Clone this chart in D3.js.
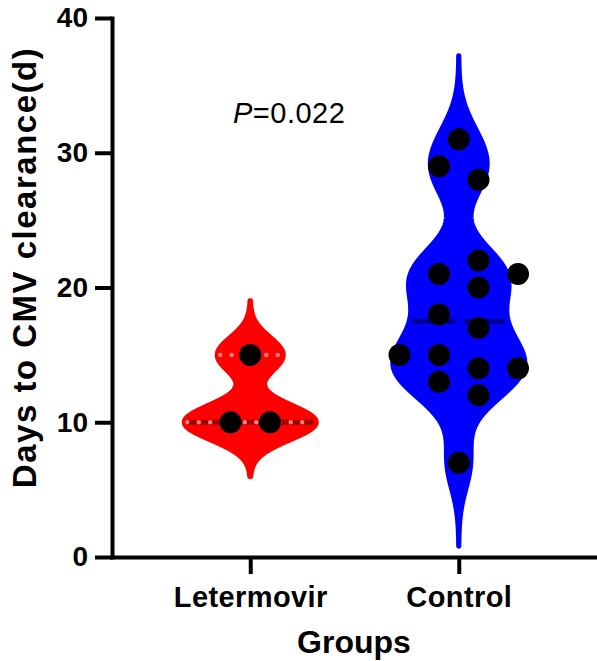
<!DOCTYPE html>
<html lang="en">
<head>
    <meta charset="UTF-8">
    <title>Days to CMV clearance</title>
    <script src="https://cdn.jsdelivr.net/npm/d3@7/dist/d3.min.js"></script>
</head>
<style>
    body {
        margin: 0;
        background: #fff;
    }

    svg text {
        font-family: "Liberation Sans", Arial, sans-serif;
    }

    .axis path, .axis line {
        stroke: #000;
        stroke-width: 4;
    }

    .axis text {
        font-size: 28px;
        font-weight: bold;
        fill: #000;
    }

    .xaxis text {
        font-size: 29px;
        letter-spacing: 0.4px;
    }
</style>
<body>
<script>
    // data
    var groups = ['Letermovir', 'Control'];
    var letermovir = [10, 10, 15];
    var control = [31, 29, 28, 22, 21, 21, 20, 18, 17, 15, 15, 14, 14, 13, 12, 7];
    var yTicks = [0, 10, 20, 30, 40];
    var pValue = '0.022';

    // styles
    var fillColors = ['#ff0000', '#0000ff'];
    var medianColors = ['#9e0000', '#000090'];
    var medianDash = [null, '44 7'];
    var quartileColors = ['#ff8080', null];
    var bandwidths = [1.3, 2.0];

    var width = 597;
    var height = 661;

    var svg = d3.select('body')
        .append('svg')
        .attr('width', width)
        .attr('height', height)

    var xScale = d3.scalePoint()
        .domain(groups)
        .range([112, 597])
        .padding(0.663)

    var yScale = d3.scaleLinear()
        .domain([0, 40])
        .range([557, 18])

    var series = [letermovir, control];

    // Prism style quantile: position (n+1)p
    function quartile(values, p) {
        var s = values.slice().sort(d3.ascending);
        var pos = (s.length + 1) * p;
        pos = Math.max(1, Math.min(s.length, pos));
        var lo = Math.floor(pos), frac = pos - lo;
        var a = s[lo - 1], b = s[Math.min(lo, s.length - 1)];
        return a + frac * (b - a);
    }

    function kde(values, bw) {
        var lo = d3.min(values) - 3.1 * bw;
        var hi = d3.max(values) + 3.1 * bw;
        var pts = [];
        for (var v = lo; v <= hi + 1e-9; v += 0.05) {
            var s = 0;
            values.forEach(function (x) {
                s += Math.exp(-(v - x) * (v - x) / (2 * bw * bw));
            });
            pts.push([v, s]);
        }
        return pts;
    }

    // put dots next to each other when they would overlap
    function swarm(values, cx) {
        var r = 11, step = 19.75;
        var items = values.map(function (v) {
            return {v: v, y: yScale(v)};
        }).sort(function (a, b) {
            return a.v - b.v;
        });
        var placed = [];
        items.forEach(function (it) {
            var alone = items.every(function (o) {
                return o === it || Math.abs(o.y - it.y) >= 2 * r;
            });
            if (alone) {
                it.x = cx;
            } else {
                var cands = [1, -1, 3, -3, 5, -5];
                for (var i = 0; i < cands.length; i++) {
                    var x = cx + cands[i] * step;
                    var hit = placed.some(function (o) {
                        var dx = o.x - x, dy = o.y - it.y;
                        return Math.sqrt(dx * dx + dy * dy) < 2 * r;
                    });
                    if (!hit) {
                        it.x = x;
                        break;
                    }
                }
            }
            placed.push(it);
        });
        return placed;
    }

    series.forEach(function (values, gi) {
        var cx = xScale(groups[gi]);
        var dens = kde(values, bandwidths[gi]);
        var wScale = d3.scaleLinear()
            .domain([0, d3.max(dens, function (d) { return d[1]; })])
            .range([0, 66]);

        var halfAt = function (v) {
            var s = 0, bw = bandwidths[gi];
            values.forEach(function (x) {
                s += Math.exp(-(v - x) * (v - x) / (2 * bw * bw));
            });
            return wScale(s);
        };

        var area = d3.area()
            .y(function (d) { return yScale(d[0]); })
            .x0(function (d) { return cx - wScale(d[1]); })
            .x1(function (d) { return cx + wScale(d[1]); })

        svg.append('path')
            .datum(dens)
            .attr('d', area)
            .attr('fill', fillColors[gi])
            .attr('stroke', fillColors[gi])
            .attr('stroke-width', 5)
            .attr('stroke-linejoin', 'round')

        var med = quartile(values, 0.5);
        var hw = halfAt(med) - 3;
        svg.append('line')
            .attr('x1', cx - hw)
            .attr('x2', cx + hw)
            .attr('y1', yScale(med))
            .attr('y2', yScale(med))
            .attr('stroke', medianColors[gi])
            .attr('stroke-width', 5)
            .attr('stroke-dasharray', medianDash[gi])

        if (quartileColors[gi]) {
            [0.25, 0.75].forEach(function (p) {
                var q = quartile(values, p);
                var qw = halfAt(q) - 3;
                svg.append('line')
                    .attr('x1', cx - qw)
                    .attr('x2', cx + qw)
                    .attr('y1', yScale(q))
                    .attr('y2', yScale(q))
                    .attr('stroke', quartileColors[gi])
                    .attr('stroke-width', 4.5)
                    .attr('stroke-linecap', 'round')
                    .attr('stroke-dasharray', '0 11.5')
            });
        }

        svg.selectAll('.dot' + gi)
            .data(swarm(values, cx))
            .enter()
            .append('circle')
            .attr('class', 'dot' + gi)
            .attr('cx', function (d) { return d.x; })
            .attr('cy', function (d) { return d.y; })
            .attr('r', 11)
            .attr('fill', '#000')
    });

    var xAxis = d3.axisBottom(xScale)
        .tickSize(17)
        .tickSizeOuter(0)
        .tickPadding(12)

    var yAxis = d3.axisLeft(yScale)
        .tickValues(yTicks)
        .tickSize(17)
        .tickSizeOuter(0)
        .tickPadding(7)

    svg.append('g')
        .attr('class', 'axis xaxis')
        .attr('transform', 'translate(0,' + yScale(0) + ')')
        .call(xAxis)

    svg.append('g')
        .attr('class', 'axis')
        .attr('transform', 'translate(112,0)')
        .call(yAxis);

    svg.selectAll('.axis .domain').attr('stroke-linecap', 'square');

    svg.append('text')
        .attr('x', 354)
        .attr('y', 653)
        .attr('text-anchor', 'middle')
        .attr('font-size', 32)
        .attr('font-weight', 'bold')
        .text('Groups')

    svg.append('text')
        .attr('transform', 'rotate(-90)')
        .attr('x', -(yScale(0) + yScale(40)) / 2 + 20)
        .attr('y', 36)
        .attr('text-anchor', 'middle')
        .attr('font-size', 33)
        .attr('font-weight', 'bold')
        .attr('letter-spacing', 1.5)
        .text('Days to CMV clearance(d)')

    var pt = svg.append('text')
        .attr('x', 233)
        .attr('y', 123)
        .attr('font-size', 29)
        .attr('letter-spacing', 0.5)
    pt.append('tspan').attr('font-style', 'italic').text('P')
    pt.append('tspan').text('=' + pValue)
</script>

</body>
</html>
